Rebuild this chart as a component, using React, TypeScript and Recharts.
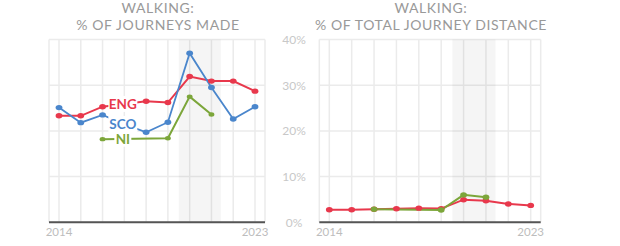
import React from 'react';
import { LineChart, Line, XAxis, YAxis, CartesianGrid, ReferenceArea } from 'recharts';

const YEARS = [2014, 2015, 2016, 2017, 2018, 2019, 2020, 2021, 2022, 2023];
const ENG_JOURNEYS = [23.3, 23.3, 25.3, 25.9, 26.5, 26.2, 31.9, 30.9, 30.9, 28.7];
const SCO_JOURNEYS = [25.1, 21.8, 23.5, 21.5, 19.7, 21.9, 37.0, 29.5, 22.6, 25.3];
const NI_JOURNEYS = [null, null, 18.2, null, null, 18.4, 27.5, 23.6, null, null];
const NI_LABEL_POS = [null, null, null, 18.3, null, null, null, null, null, null];
const ENG_DISTANCE = [2.76, 2.76, 2.85, 2.98, 3.1, 3.0, 4.95, 4.7, 4.0, 3.7];
const NI_DISTANCE = [null, null, 2.85, null, null, 2.7, 6.0, 5.5, null, null];
const Y_TICKS = [0, 10, 20, 30, 40];
const X_LABELS = [2014, 2023];
const COVID_BAND = [2019.5, 2021.43];

const RED = '#e8384c';
const BLUE = '#4a86cc';
const GREEN = '#7ca63a';
const FONT = 'Lato, "Open Sans", sans-serif';

const journeysData = YEARS.map((year, i) => ({
  year,
  eng: ENG_JOURNEYS[i],
  sco: SCO_JOURNEYS[i],
  ni: NI_JOURNEYS[i],
  niLabel: NI_LABEL_POS[i],
}));

const distanceData = YEARS.map((year, i) => ({
  year,
  eng: ENG_DISTANCE[i],
  ni: NI_DISTANCE[i],
}));

const makeLabel = (text: string, color: string, width: number) => (props: any) => {
  const { x, y, index } = props;
  if (index !== 3 || x == null || y == null) return null;
  return (
    <g key={`lbl-${text}`}>
      <rect x={x - 1.5 - width / 2} y={y - 8} width={width} height={16} fill="#fff" />
      <text
        x={x - 1.5}
        y={y}
        textAnchor="middle"
        dominantBaseline="central"
        fill={color}
        fontFamily={FONT}
        fontWeight={700}
        fontSize={13.5}
      >
        {text}
      </text>
    </g>
  );
};

const makeDot = (color: string, r: number, skip: number | null) => (props: any) => {
  const { cx, cy, index } = props;
  if (index === skip || cx == null || cy == null || props.value == null) return <g key={`d-${index}`} />;
  return <ellipse key={`d-${index}`} cx={cx} cy={cy} rx={r + 0.4} ry={r - 0.3} fill={color} />;
};

const xTick = (v: number) => (X_LABELS.includes(v) ? String(v) : '');

const commonX = (
  <XAxis
    type="number"
    dataKey="year"
    domain={[2014, 2023]}
    ticks={YEARS}
    interval={0}
    tickFormatter={xTick}
    padding={{ left: 10, right: 10 }}
    tickLine={false}
    tickSize={0}
    tickMargin={6}
    height={20}
    axisLine={{ stroke: '#555', strokeWidth: 2 }}
    tick={{ fill: '#bdbdbd', fontSize: 11.5, fontFamily: FONT }}
  />
);

const YTick = (props: any) => {
  const { y, payload } = props;
  return (
    <text x={24} y={y} textAnchor="middle" dominantBaseline="central" fill="#c8c8c8" fontSize={12} fontFamily={FONT}>
      {payload.value}%
    </text>
  );
};

export default function App() {
  return (
    <div style={{ position: 'absolute', left: 0, top: 0, width: 620, height: 246, background: '#fff', overflow: 'hidden' }}>
      <div style={{ position: 'absolute', left: 0, top: 0 }}>
        <LineChart width={310} height={246} data={journeysData} margin={{ top: 39.5, right: 45, bottom: 3.7, left: 49 }}>
          <CartesianGrid stroke="#ebebeb" strokeWidth={1.5} />
          <ReferenceArea x1={COVID_BAND[0]} x2={COVID_BAND[1]} y1={0} y2={40} fill="#000" fillOpacity={0.04} stroke="none" />
          {commonX}
          <YAxis hide domain={[0, 40]} ticks={Y_TICKS} width={0} />
          <Line
            dataKey="eng"
            stroke={RED}
            strokeWidth={2}
            dot={makeDot(RED, 3, 3)}
            isAnimationActive={false}
            label={makeLabel('ENG', RED, 29)}
          />
          <Line
            dataKey="ni"
            stroke={GREEN}
            strokeWidth={2}
            connectNulls
            dot={makeDot(GREEN, 2.5, null)}
            isAnimationActive={false}
          />
          <Line
            dataKey="sco"
            stroke={BLUE}
            strokeWidth={1.8}
            dot={makeDot(BLUE, 3, 3)}
            isAnimationActive={false}
            label={makeLabel('SCO', BLUE, 29)}
          />
          <Line
            dataKey="niLabel"
            stroke="none"
            dot={false}
            isAnimationActive={false}
            label={makeLabel('NI', GREEN, 17)}
          />
        </LineChart>
      </div>
      <div style={{ position: 'absolute', left: 270, top: 0 }}>
        <LineChart width={350} height={246} data={distanceData} margin={{ top: 39.5, right: 79.3, bottom: 3.7, left: 0 }}>
          <CartesianGrid stroke="#ebebeb" strokeWidth={1.5} />
          <ReferenceArea x1={COVID_BAND[0]} x2={COVID_BAND[1]} y1={0} y2={40} fill="#000" fillOpacity={0.04} stroke="none" />
          {commonX}
          <YAxis domain={[0, 40]} ticks={Y_TICKS} width={49.3} axisLine={false} tickLine={false} tick={<YTick />} />
          <Line dataKey="eng" stroke={RED} strokeWidth={2} dot={makeDot(RED, 3, null)} isAnimationActive={false} />
          <Line dataKey="ni" stroke={GREEN} strokeWidth={2} connectNulls dot={makeDot(GREEN, 3, null)} isAnimationActive={false} />
        </LineChart>
      </div>
      <svg width={620} height={40} style={{ position: 'absolute', left: 0, top: 0 }}>
        <g fontFamily={FONT} fontSize={14} fill="#999" textAnchor="middle" letterSpacing={0.6}>
          <text x={158} y={12.5}>WALKING:</text>
          <text x={158} y={29.5}>% OF JOURNEYS MADE</text>
          <text x={431} y={12.5}>WALKING:</text>
          <text x={431} y={29.5}>% OF TOTAL JOURNEY DISTANCE</text>
        </g>
      </svg>
    </div>
  );
}
